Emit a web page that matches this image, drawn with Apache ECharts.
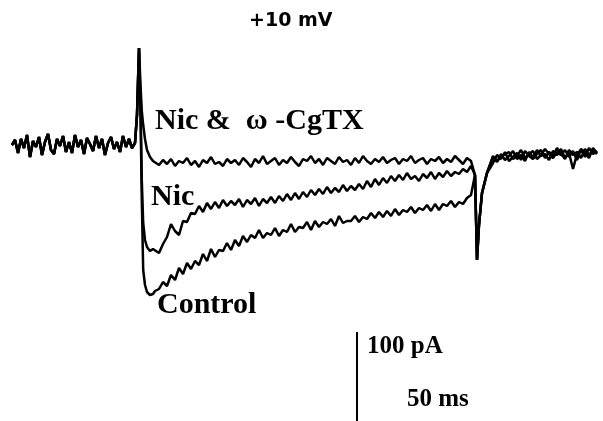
<!DOCTYPE html>
<html>
<head>
<meta charset="utf-8">
<script src="https://cdn.jsdelivr.net/npm/echarts@6/dist/echarts.min.js"></script>
<style>
  html, body { margin: 0; padding: 0; background: #fff; }
  #chart { width: 603px; height: 421px; }
</style>
</head>
<body>
<div id="chart"></div>
<script>
// time in ms, current in pA
const baselineStart = -62.5;
const baselineStep = 1.5;
const baseline = [0, 5, -8, 6, -3, 10, -12, 4, -2, 8, -10, 3, 11, -5, -9, 6, -1, 9, -7, 3, -8,
    10, -2, 5, -9, 7, 1, -6, 9, -3, 6, -10, 2, 8, -4, 3, -7, 9, -2, 6, -3, 2];

const spikeTimes = [0, 1, 1.7, 2.4, 3.1, 4, 5, 6.5, 8];
const cgtxSpike = [30, 97, 62, 34, 20, 6, -5, -12, -16];
const nicSpike = [30, 97, 45, -35, -78, -95, -102, -106, -104];
const controlSpike = [30, 97, 40, -55, -125, -140, -147, -150, -149];

const bodyStart = 9;
const bodyStep = 2;
const cgtxBody = [
    -17, -20, -15, -19, -14, -21, -16, -18, -13, -20,
    -16, -22, -15, -18, -12, -19, -17, -21, -14, -18,
    -15, -20, -13, -17, -22, -14, -18, -11, -19, -16,
    -13, -20, -15, -18, -12, -17, -21, -14, -16, -11,
    -18, -14, -20, -13, -16, -19, -12, -17, -15, -20,
    -13, -18, -11, -16, -19, -14, -17, -12, -18, -15,
    -13, -19, -14, -16, -11, -18, -15, -13, -19, -14,
    -16, -12, -18, -14, -17, -11, -15, -19, -13, -16];
const nicBody = [
    -104, -108, -99, -92, -79, -86, -90, -76, -77, -68,
    -69, -61, -67, -58, -64, -57, -63, -55, -61, -56,
    -60, -54, -62, -55, -59, -53, -61, -54, -58, -52,
    -58, -51, -56, -49, -55, -48, -54, -47, -52, -45,
    -50, -44, -49, -42, -48, -43, -47, -40, -46, -41,
    -45, -39, -44, -36, -42, -34, -40, -33, -38, -31,
    -36, -30, -35, -28, -34, -31, -36, -29, -33, -27,
    -34, -28, -32, -26, -31, -27, -29, -24, -27, -21];
const controlBody = [
    -146, -144, -137, -141, -130, -135, -123, -129, -118, -124,
    -116, -120, -109, -116, -104, -112, -105, -106, -98, -105,
    -95, -101, -91, -97, -90, -93, -85, -93, -88, -90,
    -83, -91, -85, -87, -79, -87, -82, -83, -77, -85,
    -76, -82, -77, -79, -74, -81, -71, -78, -76, -76,
    -71, -77, -72, -74, -68, -73, -67, -72, -66, -71,
    -64, -70, -65, -67, -62, -68, -63, -65, -60, -66,
    -59, -65, -59, -61, -56, -62, -57, -59, -53, -50];

const offTimes = [169, 170, 171, 172.5, 175];
const offValues = [-30, -115, -80, -48, -28];

const tailStart = 178;
const tailStep = 2;
const cgtxTail = [-12, -17, -9, -15, -11, -6, -14, -10, -16, -7, -12, -5, -11, -9, -15, -6,
    -10, -4, -13, -8, -24, -9, -5, -12, -3, -9, -6];
const nicTail = [-18, -10, -14, -7, -16, -12, -8, -15, -6, -11, -14, -9, -5, -13, -7, -11,
    -3, -9, -14, -5, -10, -7, -13, -4, -10, -5, -9];
const controlTail = [-11, -16, -12, -9, -7, -14, -11, -5, -13, -9, -6, -14, -10, -4, -9,
    -13, -7, -10, -5, -12, -6, -15, -4, -8, -13, -3, -8];

// 100 pA scale bar
const scaleBarTime = 110;
const scaleBarValues = [-187, -290];

function sampled(start, step, values) {
    return values.map((v, i) => [start + i * step, v]);
}

function paired(times, values) {
    return times.map((t, i) => [t, values[i]]);
}

function buildTrace(spike, body, tail) {
    return [].concat(
        sampled(baselineStart, baselineStep, baseline),
        paired(spikeTimes, spike),
        sampled(bodyStart, bodyStep, body),
        paired(offTimes, offValues),
        sampled(tailStart, tailStep, tail)
    );
}

function traceSeries(name, data) {
    return {
        name: name,
        type: 'line',
        data: data,
        showSymbol: false,
        symbol: 'none',
        lineStyle: { color: '#000', width: 2.5 },
        silent: true
    };
}

const serifFont = 'bold 30px "Liberation Serif", "Times New Roman", serif';
const scaleFont = 'bold 25px "Liberation Serif", "Times New Roman", serif';

const option = {
    animation: false,
    backgroundColor: '#fff',
    grid: { left: 0, right: 0, top: 0, bottom: 0 },
    xAxis: { type: 'value', min: -68.5, max: 233, show: false },
    yAxis: { type: 'value', min: -276, max: 145, show: false },
    series: [
        traceSeries('Control', buildTrace(controlSpike, controlBody, controlTail)),
        traceSeries('Nic', buildTrace(nicSpike, nicBody, nicTail)),
        traceSeries('Nic & ω-CgTX', buildTrace(cgtxSpike, cgtxBody, cgtxTail)),
        {
            name: 'scale',
            type: 'line',
            data: scaleBarValues.map(v => [scaleBarTime, v]),
            showSymbol: false,
            symbol: 'none',
            lineStyle: { color: '#000', width: 2 },
            silent: true
        }
    ],
    graphic: [
        {
            type: 'text', left: 249, top: 12,
            style: { text: '+10 mV', font: 'bold 19px "DejaVu Sans", sans-serif', fill: '#000' }
        },
        {
            type: 'text', x: 155, y: 121,
            style: { text: 'Nic &  ω -CgTX', font: serifFont, fill: '#000', verticalAlign: 'middle' }
        },
        {
            type: 'text', x: 151, y: 197,
            style: { text: 'Nic', font: serifFont, fill: '#000', verticalAlign: 'middle' }
        },
        {
            type: 'text', x: 157, y: 305,
            style: { text: 'Control', font: serifFont, fill: '#000', verticalAlign: 'middle' }
        },
        {
            type: 'text', x: 367, y: 347,
            style: { text: '100 pA', font: scaleFont, fill: '#000', verticalAlign: 'middle' }
        },
        {
            type: 'text', x: 407, y: 400,
            style: { text: '50 ms', font: scaleFont, fill: '#000', verticalAlign: 'middle' }
        }
    ]
};

let chart = echarts.init(document.getElementById('chart'));
chart.setOption(option);
</script>
</body>
</html>
